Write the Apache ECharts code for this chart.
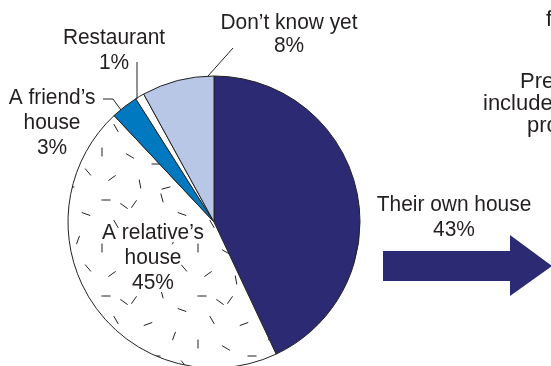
<!DOCTYPE html>
<html><head><meta charset="utf-8">
<script src="https://cdn.jsdelivr.net/npm/echarts@6/dist/echarts.min.js"></script>
<style>html,body{margin:0;padding:0;background:#fff}#c{width:551px;height:366px}</style>
</head><body><div id="c"></div>
<script>
var categories = ["Their own house", "A relative\u2019s house", "A friend\u2019s house", "Restaurant", "Don\u2019t know yet"];
var values = [43, 45, 3, 1, 8];
var sideTexts = ["f", "Pre", "include", "pr"];

var FONT = '"Liberation Sans", Arial, sans-serif';
var TXT = '#231f20';

// hatch pattern for the relative's house slice
var pc = document.createElement('canvas');
pc.width = 96; pc.height = 96;
var g = pc.getContext('2d');
g.fillStyle = '#fff'; g.fillRect(0,0,96,96);
g.strokeStyle = '#222'; g.lineWidth = 1;
var dashes = [[10,8,0],[38,12,-55],[66,6,75],[86,22,20],[20,32,60],[52,36,-20],[78,48,-70],[6,56,90],[34,60,30],[60,68,0],[88,76,50],[16,82,-35],[44,88,80],[70,92,-15],[28,14,35]];
dashes.forEach(function(d){
  var a = d[2]*Math.PI/180, l = 4.5;
  g.beginPath();
  g.moveTo(d[0]-Math.cos(a)*l, d[1]-Math.sin(a)*l);
  g.lineTo(d[0]+Math.cos(a)*l, d[1]+Math.sin(a)*l);
  g.stroke();
});

var colors = ['#2b2a72', {image: pc, repeat: 'repeat'}, '#0079c1', '#ffffff', '#b9c7e7'];

var chart = echarts.init(document.getElementById('c'));

function txt(x, y, s, align, lh, sx, halo){
  var st = {text:s, fill:TXT, font:'22px ' + FONT, textAlign: align||'center', textVerticalAlign:'top', lineHeight:lh||25};
  if (halo) { st.stroke = '#fff'; st.lineWidth = 6; }
  return {type:'text', z:100, x:x, y:y, scaleX: sx || 0.95, style: st};
}
function lbl(i, x, y, lines, lh, halo){
  var s = lines ? lines : categories[i];
  return txt(x, y, s + '\n' + values[i] + '%', 'center', lh, 0.95, halo);
}

var graphics = [
  lbl(4, 289, 11.5, null, 23),
  lbl(3, 114, 25.5),
  lbl(2, 52, 85.5, 'A friend\u2019s\nhouse'),
  lbl(1, 153, 220.5, 'A relative\u2019s\nhouse', 25, true),
  lbl(0, 454, 192.5),
  {type:'polyline', z:100, shape:{points:[[208,76],[233,48]]}, style:{stroke:'#222', lineWidth:1}},
  {type:'polyline', z:100, shape:{points:[[137,62],[137,99]]}, style:{stroke:'#222', lineWidth:1}},
  {type:'polyline', z:100, shape:{points:[[103,99],[113,99],[121,110]]}, style:{stroke:'#222', lineWidth:1, fill:null}},
  {type:'polygon', z:100, shape:{points:[[383,251],[510,251],[510,235],[552,266],[510,296],[510,281],[383,281]]}, style:{fill:'#2b2a72'}},
  txt(546, 9, sideTexts[0] + 'or', 'left', 22, 1),
  txt(520, 71, sideTexts[1] + 'parations', 'left', 22, 1),
  txt(483, 93, sideTexts[2] + 's', 'left', 22, 1),
  txt(527, 115, sideTexts[3] + 'oper', 'left', 22, 1)
];

chart.setOption({
  animation: false,
  backgroundColor: '#fff',
  series: [{
    type: 'pie',
    center: [214, 222],
    radius: 146,
    startAngle: 90,
    clockwise: true,
    silent: true,
    z: 1,
    label: {show: false},
    labelLine: {show: false},
    itemStyle: {borderColor: '#222', borderWidth: 1},
    data: categories.map(function(c, i){
      return {name: c, value: values[i], itemStyle: {color: colors[i]}};
    })
  }],
  graphic: graphics
});
</script></body></html>
